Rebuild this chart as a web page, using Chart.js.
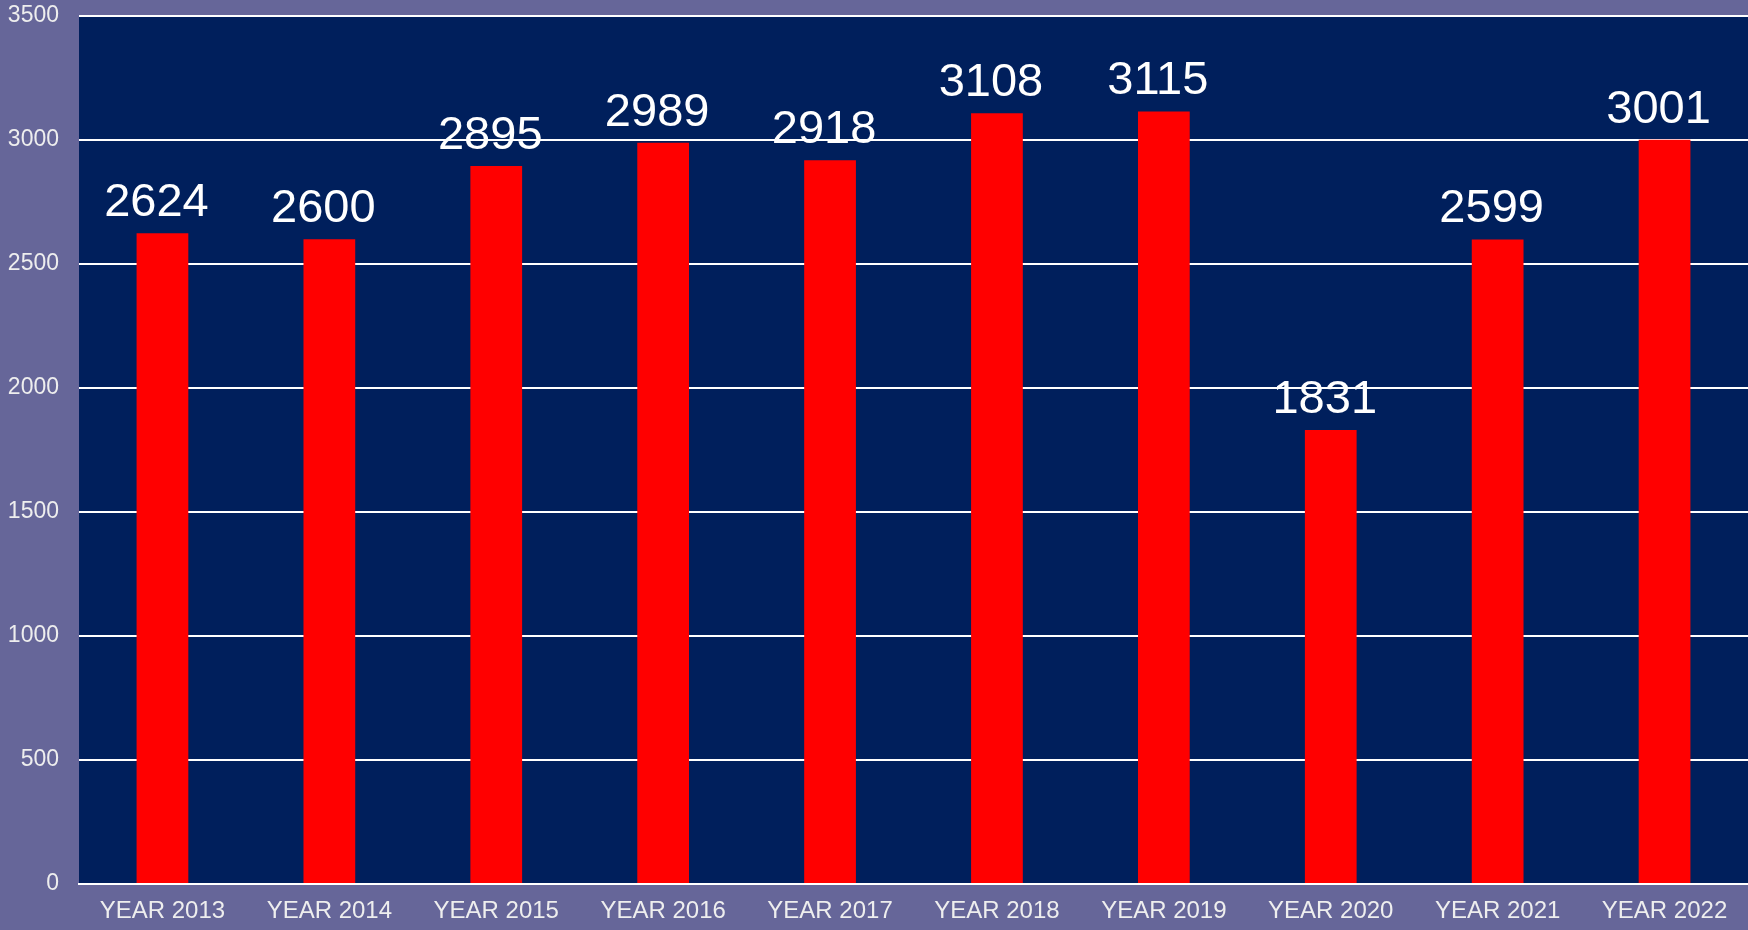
<!DOCTYPE html>
<html>
<head>
<meta charset="utf-8">
<script src="https://cdn.jsdelivr.net/npm/chart.js@4/dist/chart.umd.min.js"></script>
<style>
    html, body { margin: 0; padding: 0; background: #666699; }
    #wrap { width: 1748px; height: 930px; }
</style>
</head>
<body>
<div id="wrap"><canvas id="yearChart"></canvas></div>
<script>
const years = ['YEAR 2013', 'YEAR 2014', 'YEAR 2015', 'YEAR 2016', 'YEAR 2017',
    'YEAR 2018', 'YEAR 2019', 'YEAR 2020', 'YEAR 2021', 'YEAR 2022'];
const totals = [2624, 2600, 2895, 2989, 2918, 3108, 3115, 1831, 2599, 3001];
const yTicks = [0, 500, 1000, 1500, 2000, 2500, 3000, 3500];

const fontFamily = '"Liberation Sans", Arial, sans-serif';

// navy fill behind the plot area
const plotBg = {
    id: 'plotBg',
    beforeDraw(chart) {
        const { ctx, chartArea: a } = chart;
        ctx.save();
        ctx.fillStyle = '#001f5c';
        ctx.fillRect(a.left, a.top, a.right - a.left, a.bottom - a.top);
        ctx.restore();
    }
};

// value labels above each bar (sit a little left of centre, like the original)
const barValues = {
    id: 'barValues',
    afterDatasetsDraw(chart) {
        const { ctx } = chart;
        const meta = chart.getDatasetMeta(0);
        ctx.save();
        ctx.fillStyle = '#ffffff';
        ctx.font = '47px ' + fontFamily;
        ctx.textAlign = 'center';
        ctx.textBaseline = 'alphabetic';
        meta.data.forEach((bar, i) => {
            ctx.fillText(String(totals[i]), bar.x - 6, bar.y - 17);
        });
        ctx.restore();
    }
};

new Chart(document.getElementById('yearChart'), {
    type: 'bar',
    data: {
        labels: years,
        datasets: [{
            data: totals,
            backgroundColor: '#ff0000',
            barPercentage: 0.62,
            categoryPercentage: 0.5
        }]
    },
    options: {
        responsive: true,
        maintainAspectRatio: false,
        animation: false,
        layout: { padding: { top: 16, right: 0, left: 7, bottom: 0 } },
        plugins: {
            legend: { display: false },
            tooltip: { enabled: false }
        },
        scales: {
            x: {
                grid: { display: false, drawTicks: false },
                border: { display: true, color: '#ffffff', width: 2 },
                ticks: {
                    color: '#eeeeee',
                    font: { family: fontFamily, size: 24 },
                    padding: 13
                },
                afterFit(axis) {
                    axis.paddingLeft = 0;
                    axis.paddingRight = 0;
                    axis.height = 46;
                }
            },
            y: {
                min: 0,
                max: 3500,
                afterBuildTicks(axis) {
                    axis.ticks = yTicks.map(v => ({ value: v }));
                },
                grid: { color: '#ffffff', lineWidth: 2, drawTicks: false },
                border: { display: false },
                ticks: {
                    color: '#eeeeee',
                    font: { family: fontFamily, size: 23 },
                    padding: 20,
                    callback: v => String(v)
                },
                afterFit(axis) {
                    axis.paddingTop = 0;
                    axis.paddingBottom = 0;
                    axis.width = 72;
                }
            }
        }
    },
    plugins: [plotBg, barValues]
});
</script>
</body>
</html>
